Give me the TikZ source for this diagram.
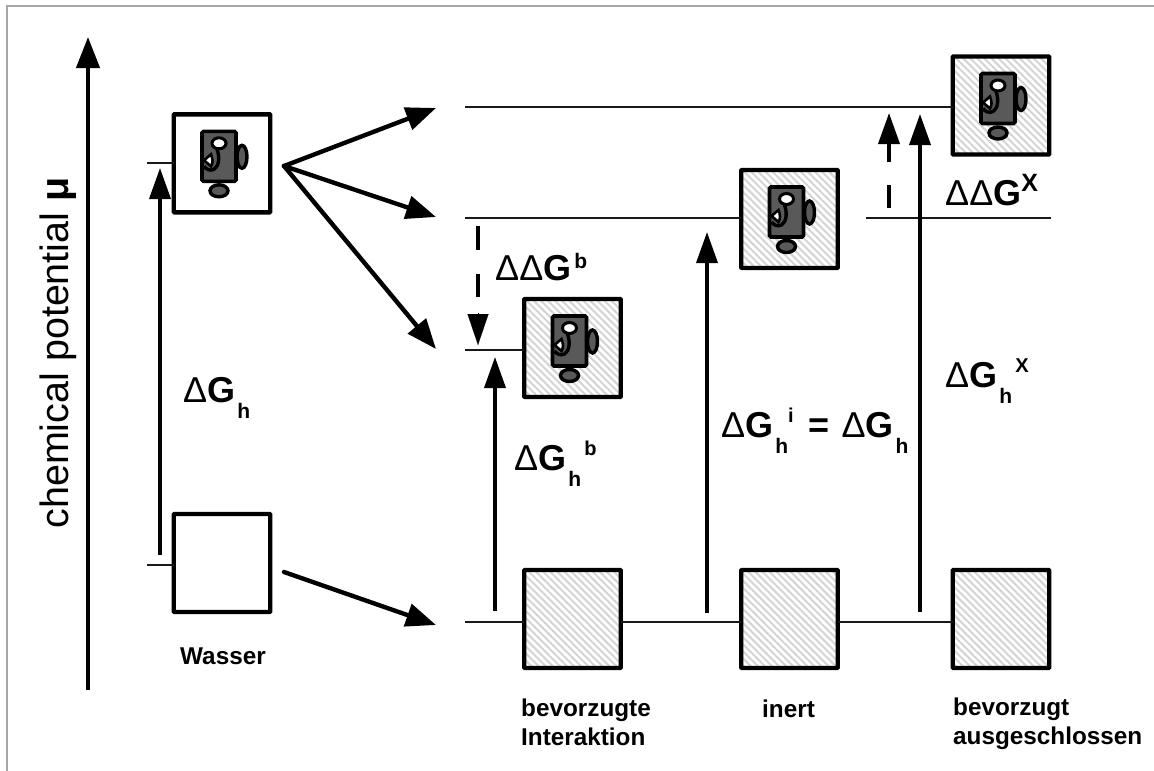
\documentclass[tikz,border=0pt]{standalone}
\usepackage{fontspec}
\setmainfont{Liberation Sans}
\usetikzlibrary{patterns.meta,arrows.meta}
\tikzset{
 x=1pt,y=-1pt,
 plain/.style={draw=black,line width=4.4pt,fill=white,minimum width=96.5pt,minimum height=98pt,inner sep=0pt,outer sep=0pt,rounded corners=0.8pt},
 hatched/.style={plain,preaction={fill=white},pattern={Lines[angle=135,distance=5pt,line width=2pt]},pattern color=black!17},
 level/.style={draw=black!90,line width=2.2pt},
 rise/.style={draw=black,line width=3.6pt,-{Triangle[length=31pt,width=21pt]}},
 movearrow/.style={draw=black,line width=4.4pt,line cap=round,-{Triangle[length=30pt,width=23pt]}},
 dashbar/.style={draw=black,line width=3.8pt},
 sym/.style={font=\bfseries\fontsize{36}{40}\selectfont,inner sep=0pt,anchor=base west},
 captext/.style={font=\bfseries\fontsize{24.3}{28.8}\selectfont,inner sep=0pt,anchor=base west,align=left},
 mol/.pic={
  \path[fill=black!65,draw=black,line width=3.6pt,rounded corners=1.5pt] (-20,-32) rectangle (14,18);
  \path[draw=black,fill=black!65,line width=3.4pt] (20,-6.5) ellipse [x radius=5pt,y radius=11.5pt];
  \path[draw=black,fill=black!65,line width=3.4pt] (-3,27.5) ellipse [x radius=9pt,y radius=6pt];
  \path[draw=black,line width=3.4pt] (-5,-14) .. controls (-2,-6) and (-3,3) .. (-8,6) .. controls (-12,8) and (-16,6) .. (-18,3);
  \path[fill=white,draw=black,line width=2.6pt] (-18,-3) -- (-11,-9) .. controls (-9,-4) and (-9,0) .. (-11,3) -- cycle;
  \path[draw=black,fill=white,line width=3pt] (-3,-20) ellipse [x radius=7pt,y radius=5.5pt];
 }
}
\newcommand{\DL}{{\mdseries Δ}}
\newcommand{\subh}{\hspace{2pt}\raisebox{-16pt}{\fontsize{21}{21}\selectfont h}}
\newcommand{\supr}[1]{\raisebox{15pt}{\fontsize{20}{20}\selectfont #1}}
\begin{document}
\begin{tikzpicture}
\useasboundingbox (0,0) rectangle (1154,771);
\fill[white] (0,0) rectangle (1154,771);
\draw[black!35,line width=2.4pt] (7,771) -- (7,6) -- (1154,6);

% boxes
\node[plain]   (w1) at (222,163.3) {};
\node[plain]   (w2) at (222,563) {};
\node[hatched] (b1) at (572.5,348) {};
\node[hatched] (b2) at (572.5,619) {};
\node[hatched] (i1) at (789.5,219) {};
\node[hatched] (i2) at (789.5,619) {};
\node[hatched] (x1) at (1001,105.5) {};
\node[hatched] (x2) at (1001,619) {};
\pic at (222,163.3) {mol};
\pic at (572.5,348) {mol};
\pic at (789.5,219) {mol};
\pic at (1001,105.5) {mol};

% free ends
\coordinate (axisS) at (88,690);
\coordinate (axisE) at (88,37);
\coordinate (w1L) at (147,163);
\coordinate (w2L) at (147,565);
\coordinate (hS) at (160,555);
\coordinate (hE) at (160,168);
\coordinate (fan) at (284,166);
\coordinate (fanA) at (436,108);
\coordinate (fanB) at (436,217);
\coordinate (fanC) at (436,349);
\coordinate (lowS) at (284,572);
\coordinate (lowE) at (436,625);
\coordinate (l1) at (465,107);
\coordinate (l2) at (465,218);
\coordinate (l3) at (465,350);
\coordinate (l4) at (465,622);
\coordinate (l5) at (866,218);
\coordinate (l5e) at (1051,218);

% levels
\draw[level] (w1L) -- (w1L -| w1.west);
\draw[level] (w2L) -- (w2L -| w2.west);
\draw[level] (l1) -- (l1 -| x1.west);
\draw[level] (l2) -- (l2 -| i1.west);
\draw[level] (l3) -- (l3 -| b1.west);
\draw[level] (l4) -- (l4 -| b2.west);
\draw[level] (b2.east |- l4) -- (l4 -| i2.west);
\draw[level] (i2.east |- l4) -- (l4 -| x2.west);
\draw[level] (l5) -- (l5e);

% arrows
\draw[draw=black,line width=4.2pt,-{Triangle[length=31pt,width=23pt]}] (axisS) -- (axisE);
\draw[rise] (hS) -- (hE);
\draw[movearrow] (fan) -- (fanA);
\draw[movearrow] (fan) -- (fanB);
\draw[movearrow] (fan) -- (fanC);
\draw[movearrow] (lowS) -- (lowE);
\coordinate (r1S) at (495,611); \coordinate (r1E) at (495,357);
\coordinate (r2S) at (707,613); \coordinate (r2E) at (707,232);
\coordinate (r3S) at (920,612); \coordinate (r3E) at (920,114);
\draw[rise] (r1S) -- (r1E);
\draw[rise] (r2S) -- (r2E);
\draw[rise] (r3S) -- (r3E);

% dashed shifts
\coordinate (da1) at (478,226); \coordinate (da2) at (478,250);
\coordinate (da3) at (478,274); \coordinate (da4) at (478,297);
\coordinate (da5) at (478,313); \coordinate (da6) at (478,345);
\draw[dashbar] (da1) -- (da2);
\draw[dashbar] (da3) -- (da4);
\draw[draw=black,line width=0.1pt,-{Triangle[length=31pt,width=21pt]}] (da5) -- (da6);
\coordinate (db1) at (889,208); \coordinate (db2) at (889,185);
\coordinate (db3) at (889,162); \coordinate (db4) at (889,113);
\draw[dashbar] (db1) -- (db2);
\draw[dashbar,-{Triangle[length=31pt,width=21pt]}] (db3) -- (db4);

% labels
\node[font=\fontsize{39.5}{44}\selectfont,rotate=90,inner sep=0pt,anchor=base] (axis) at (68,353) {chemical potential {\bfseries μ}};
\node[sym] (t1) at (183,402) {\DL G\subh};
\node[sym] (t2) at (495,280) {\DL\DL G\hspace{3pt}\raisebox{12pt}{\fontsize{21}{21}\selectfont b}};
\node[sym] (t3) at (514,470) {\DL G\subh\supr{\,b}};
\node[sym] (t4) at (721,437) {\DL G\subh\supr{i}\hspace{5pt} = \hspace{2pt}\DL G\subh};
\node[sym] (t5) at (945,205) {\DL\DL G\raisebox{14pt}{\fontsize{25}{25}\selectfont X}};
\node[sym] (t6) at (945,387) {\DL G\subh\supr{\,X}};
\node[captext] (c1) at (180,664) {Wasser};
\node[captext] (c2) at (521,745) {bevorzugte\\Interaktion};
\node[captext] (c3) at (762,717) {inert};
\node[captext] (c4) at (953,744) {bevorzugt\\ausgeschlossen};
\end{tikzpicture}
\end{document}
